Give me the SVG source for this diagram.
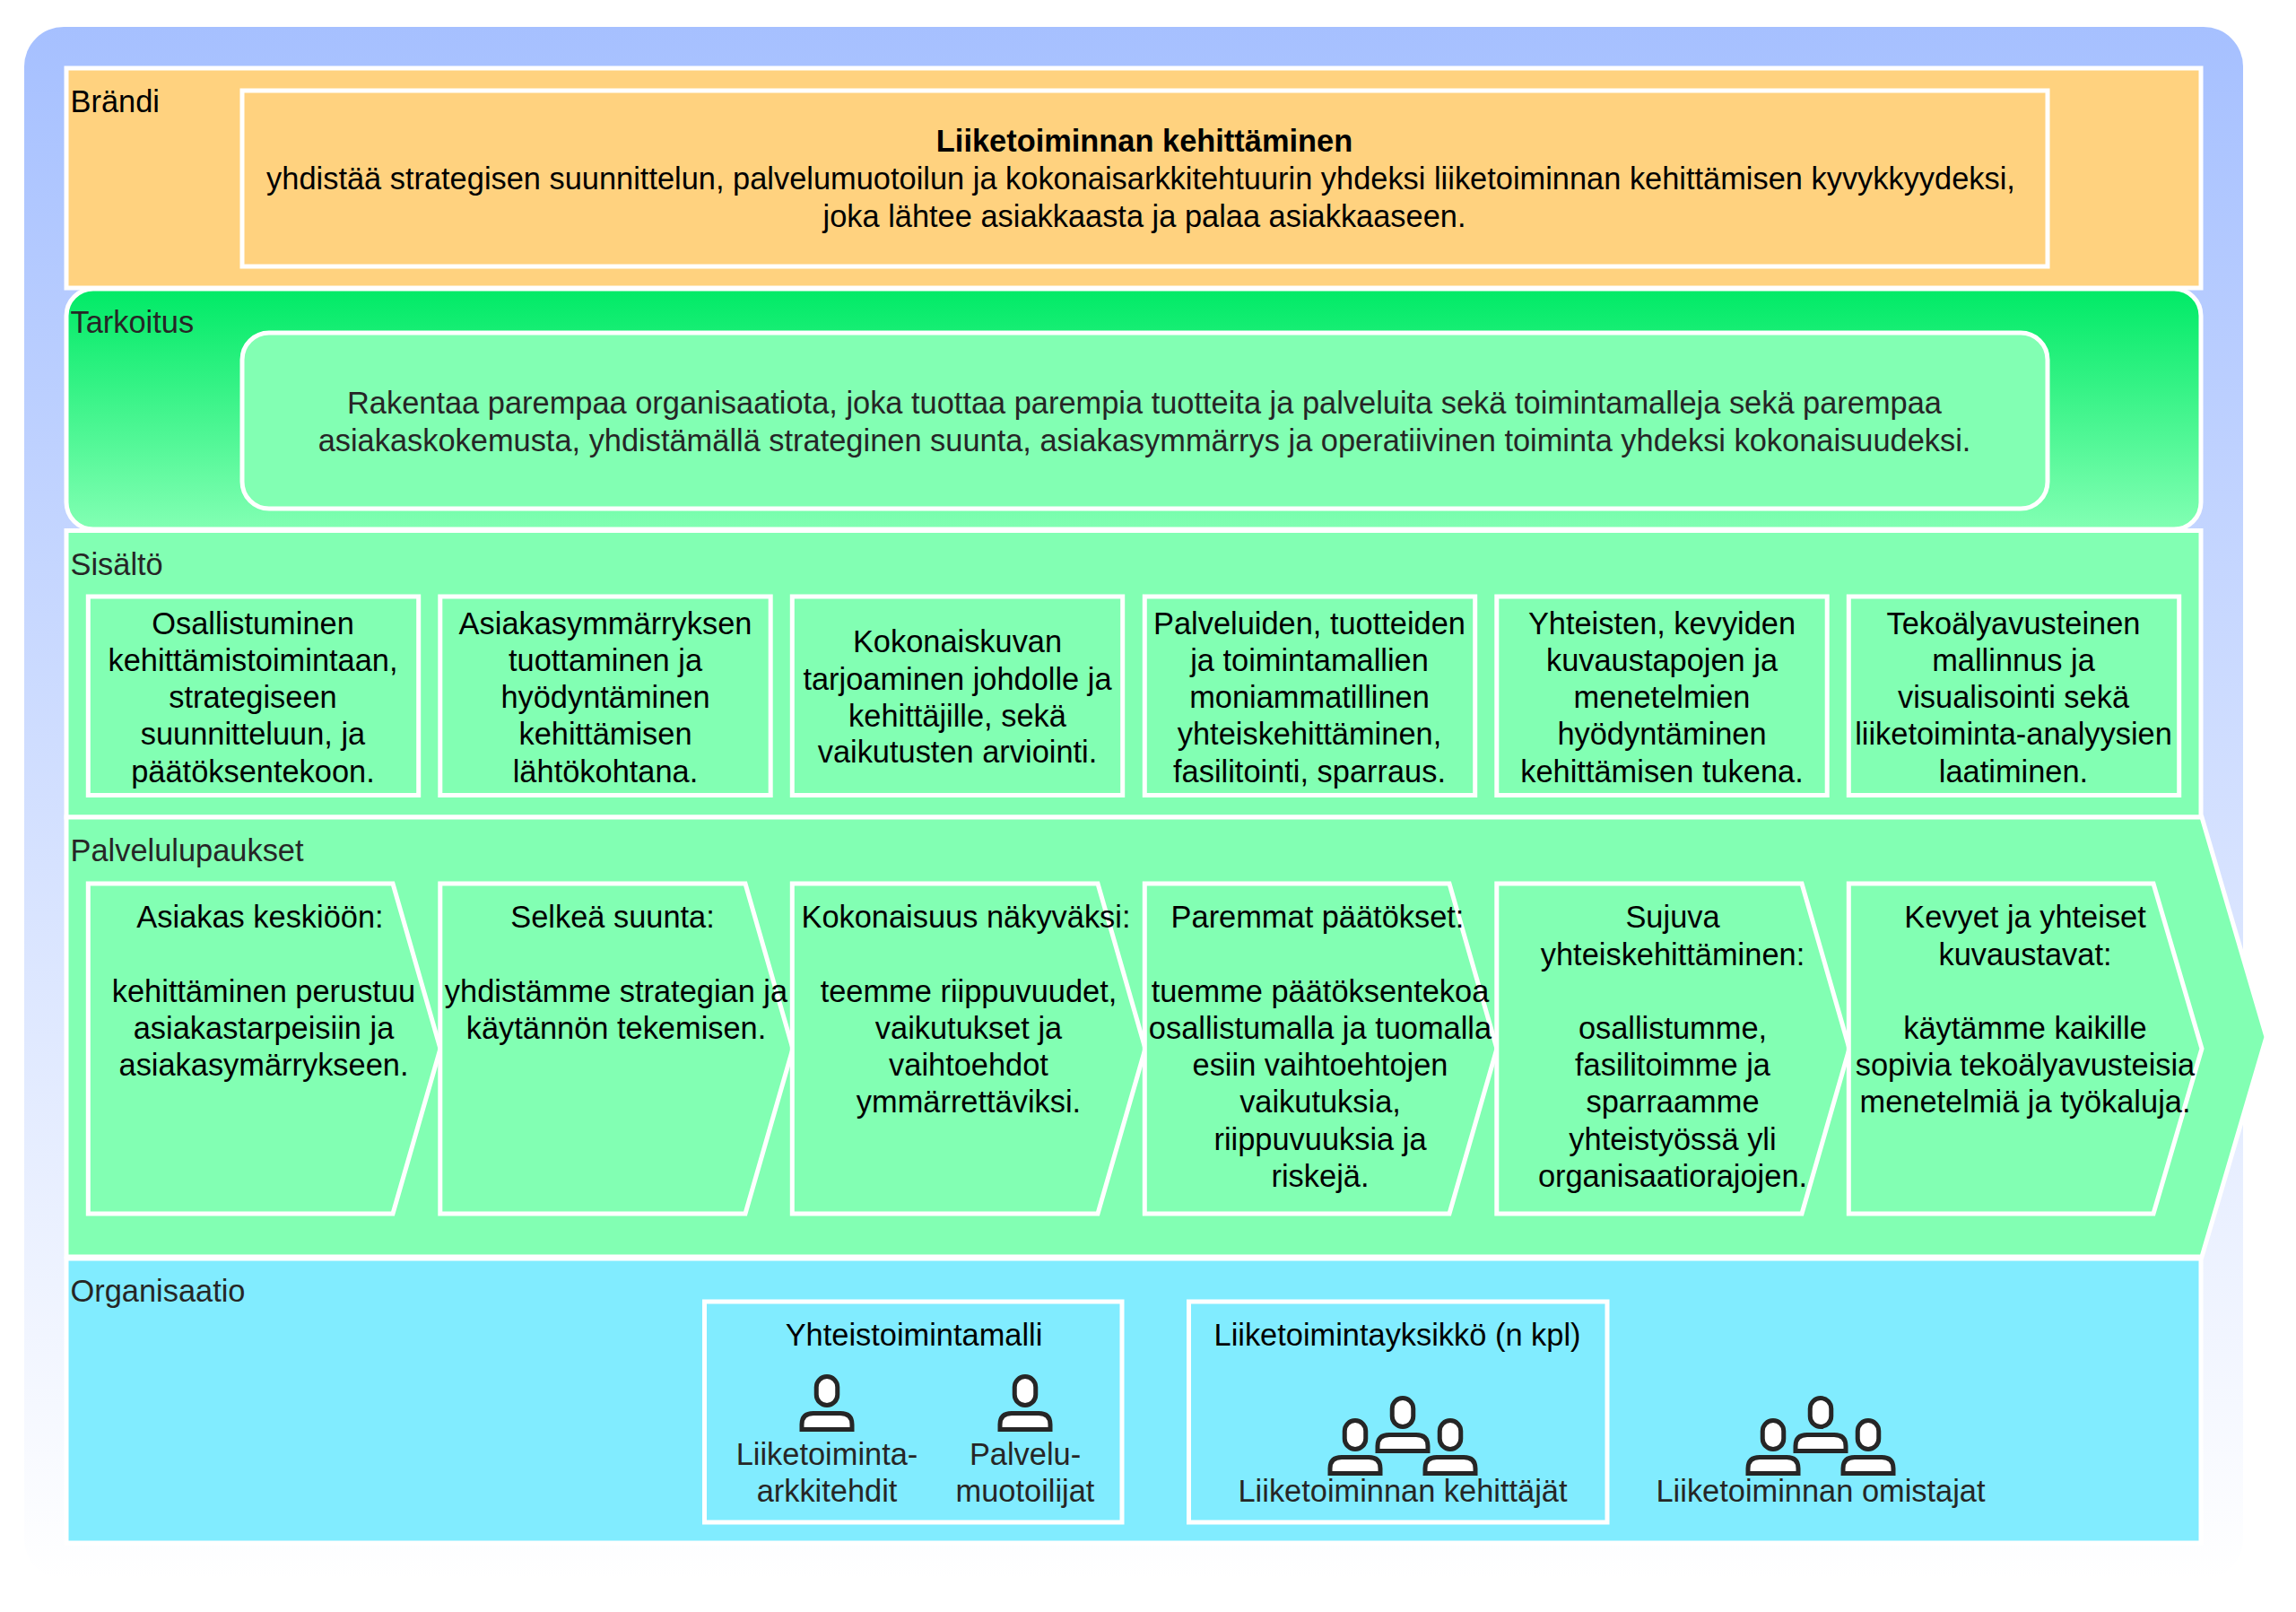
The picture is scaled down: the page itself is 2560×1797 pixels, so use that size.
<svg xmlns="http://www.w3.org/2000/svg" xmlns:xlink="http://www.w3.org/1999/xlink" width="2560" height="1797" viewBox="0 0 2560 1797">
<style>
text{font-family:"Liberation Sans",Arial,sans-serif;font-size:34.4px;fill:#000;text-anchor:middle}
.l{text-anchor:start}
.d{fill:#262626}
.b{font-weight:bold}
.w{stroke:#fff;stroke-width:5}
.o{fill:#ffd27f}
.g{fill:#82ffb3}
.c{fill:#81ecff}
.p{fill:#fff;stroke:#262626;stroke-width:5}
</style>
<defs>
<linearGradient id="outer" x1="0" y1="0" x2="0" y2="1"><stop offset="0" stop-color="#a6c0ff"/><stop offset="1" stop-color="#fff"/></linearGradient>
<linearGradient id="purpose" x1="0" y1="0" x2="0" y2="1"><stop offset="0" stop-color="#00ea66"/><stop offset="1" stop-color="#82ffb3"/></linearGradient>
<g id="person"><rect class="p" x="-11.75" y="2.5" width="23.5" height="32" rx="11.75"/><path class="p" d="M-28,61.5V56Q-28,43.5-15,43.5H15Q28,43.5 28,56V61.5Z"/></g>
</defs>
<rect id="background" x="27" y="30" width="2474" height="1730" rx="44" fill="url(#outer)"/>

<g id="brandi">
<rect class="w o" x="74" y="76" width="2380" height="245"/>
<text class="l" x="78.5" y="125">Brändi</text>
<rect class="w o" x="270" y="101" width="2013" height="196"/>
<text class="b" x="1276" y="169">Liiketoiminnan kehittäminen</text>
<text x="1272" y="211">yhdistää strategisen suunnittelun, palvelumuotoilun ja kokonaisarkkitehtuurin yhdeksi liiketoiminnan kehittämisen kyvykkyydeksi,</text>
<text x="1276" y="252.500">joka lähtee asiakkaasta ja palaa asiakkaaseen.</text>
</g>

<g id="tarkoitus">
<rect class="w" x="74" y="322" width="2380" height="268" rx="30" fill="url(#purpose)"/>
<text class="l d" x="78.5" y="370.500">Tarkoitus</text>
<rect class="w g" x="270" y="371" width="2013" height="196" rx="30"/>
<text class="d" x="1276" y="461">Rakentaa parempaa organisaatiota, joka tuottaa parempia tuotteita ja palveluita sekä toimintamalleja sekä parempaa</text>
<text class="d" x="1276" y="503">asiakaskokemusta, yhdistämällä strateginen suunta, asiakasymmärrys ja operatiivinen toiminta yhdeksi kokonaisuudeksi.</text>
</g>

<g id="sisalto">
<rect class="w g" x="74" y="591.500" width="2380" height="319.500"/>
<text class="l d" x="78.5" y="641">Sisältö</text>
</g>
<g id="sisalto-1"><rect class="w g" x="98.300" y="665" width="368.400" height="221.500"/>
<text x="282" y="707">Osallistuminen</text><text x="282" y="748">kehittämistoimintaan,</text><text x="282" y="789">strategiseen</text><text x="282" y="830">suunnitteluun, ja</text><text x="282" y="871.500">päätöksentekoon.</text></g>
<g id="sisalto-2"><rect class="w g" x="490.800" y="665" width="368.400" height="221.500"/>
<text x="675" y="707">Asiakasymmärryksen</text><text x="675" y="748">tuottaminen ja</text><text x="675" y="789">hyödyntäminen</text><text x="675" y="830">kehittämisen</text><text x="675" y="871.500">lähtökohtana.</text></g>
<g id="sisalto-3"><rect class="w g" x="883.300" y="665" width="368.400" height="221.500"/>
<text x="1067.500" y="727">Kokonaiskuvan</text><text x="1067.500" y="769">tarjoaminen johdolle ja</text><text x="1067.500" y="810">kehittäjille, sekä</text><text x="1067.500" y="850">vaikutusten arviointi.</text></g>
<g id="sisalto-4"><rect class="w g" x="1276.300" y="665" width="368.400" height="221.500"/>
<text x="1460" y="707">Palveluiden, tuotteiden</text><text x="1460" y="748">ja toimintamallien</text><text x="1460" y="789">moniammatillinen</text><text x="1460" y="830">yhteiskehittäminen,</text><text x="1460" y="871.500">fasilitointi, sparraus.</text></g>
<g id="sisalto-5"><rect class="w g" x="1668.800" y="665" width="368.400" height="221.500"/>
<text x="1853" y="707">Yhteisten, kevyiden</text><text x="1853" y="748">kuvaustapojen ja</text><text x="1853" y="789">menetelmien</text><text x="1853" y="830">hyödyntäminen</text><text x="1853" y="871.500">kehittämisen tukena.</text></g>
<g id="sisalto-6"><rect class="w g" x="2061.300" y="665" width="368.400" height="221.500"/>
<text x="2245" y="707">Tekoälyavusteinen</text><text x="2245" y="748">mallinnus ja</text><text x="2245" y="789">visualisointi sekä</text><text x="2245" y="830">liiketoiminta-analyysien</text><text x="2245" y="871.500">laatiminen.</text></g>

<g id="palvelulupaukset">
<path class="w g" d="M74,911H2455L2527,1156L2455,1401H74Z"/>
<text class="l d" x="78.5" y="960">Palvelulupaukset</text>
</g>
<g id="lupaus-1"><path class="w g" d="M98.300,985H438L491,1169L438,1353H98.300Z"/>
<text x="290" y="1033.500">Asiakas keskiöön:</text><text x="294" y="1117">kehittäminen perustuu</text><text x="294" y="1157.500">asiakastarpeisiin ja</text><text x="294" y="1198.500">asiakasymärrykseen.</text></g>
<g id="lupaus-2"><path class="w g" d="M490.800,985H831L884,1169L831,1353H490.800Z"/>
<text x="683" y="1033.500">Selkeä suunta:</text><text x="687" y="1117">yhdistämme strategian ja</text><text x="687" y="1157.500">käytännön tekemisen.</text></g>
<g id="lupaus-3"><path class="w g" d="M883.300,985H1224L1277,1169L1224,1353H883.300Z"/>
<text x="1077" y="1033.500">Kokonaisuus näkyväksi:</text><text x="1080" y="1117">teemme riippuvuudet,</text><text x="1080" y="1157.500">vaikutukset ja</text><text x="1080" y="1198.500">vaihtoehdot</text><text x="1080" y="1239.500">ymmärrettäviksi.</text></g>
<g id="lupaus-4"><path class="w g" d="M1276.300,985H1616L1669,1169L1616,1353H1276.300Z"/>
<text x="1469" y="1033.500">Paremmat päätökset:</text><text x="1472" y="1117">tuemme päätöksentekoa</text><text x="1472" y="1157.500">osallistumalla ja tuomalla</text><text x="1472" y="1198.500">esiin vaihtoehtojen</text><text x="1472" y="1239.500">vaikutuksia,</text><text x="1472" y="1281.500">riippuvuuksia ja</text><text x="1472" y="1322.500">riskejä.</text></g>
<g id="lupaus-5"><path class="w g" d="M1668.800,985H2009L2062,1169L2009,1353H1668.800Z"/>
<text x="1865" y="1033.500">Sujuva</text><text x="1865" y="1075.500">yhteiskehittäminen:</text><text x="1865" y="1157.500">osallistumme,</text><text x="1865" y="1198.500">fasilitoimme ja</text><text x="1865" y="1239.500">sparraamme</text><text x="1865" y="1281.500">yhteistyössä yli</text><text x="1865" y="1322.500">organisaatiorajojen.</text></g>
<g id="lupaus-6"><path class="w g" d="M2061.300,985H2401L2455,1169L2401,1353H2061.300Z"/>
<text x="2258" y="1033.500">Kevyet ja yhteiset</text><text x="2258" y="1075.500">kuvaustavat:</text><text x="2258" y="1157.500">käytämme kaikille</text><text x="2258" y="1198.500">sopivia tekoälyavusteisia</text><text x="2258" y="1239.500">menetelmiä ja työkaluja.</text></g>

<g id="organisaatio">
<rect class="w c" x="74" y="1403" width="2380" height="317"/>
<text class="l d" x="78.5" y="1451">Organisaatio</text>
</g>
<g id="yhteistoimintamalli">
<rect class="w c" x="785.5" y="1451" width="465.5" height="246"/>
<text x="1019" y="1499.500">Yhteistoimintamalli</text>
<use xlink:href="#person" href="#person" x="922" y="1532"/>
<use xlink:href="#person" href="#person" x="1143" y="1532"/>
<text class="d" x="922" y="1632.500">Liiketoiminta-</text><text class="d" x="922" y="1674">arkkitehdit</text>
<text class="d" x="1143" y="1632.500">Palvelu-</text><text class="d" x="1143" y="1674">muotoilijat</text>
</g>
<g id="liiketoimintayksikko">
<rect class="w c" x="1325.5" y="1451" width="466.5" height="246"/>
<text x="1558" y="1499.500">Liiketoimintayksikkö (n kpl)</text>
<use xlink:href="#person" href="#person" x="1564" y="1556"/>
<use xlink:href="#person" href="#person" x="1511" y="1581"/>
<use xlink:href="#person" href="#person" x="1617" y="1581"/>
<text class="d" x="1564" y="1674">Liiketoiminnan kehittäjät</text>
</g>
<g id="omistajat">
<use xlink:href="#person" href="#person" x="2030" y="1556"/>
<use xlink:href="#person" href="#person" x="1977" y="1581"/>
<use xlink:href="#person" href="#person" x="2083" y="1581"/>
<text class="d" x="2030" y="1674">Liiketoiminnan omistajat</text>
</g>
</svg>
